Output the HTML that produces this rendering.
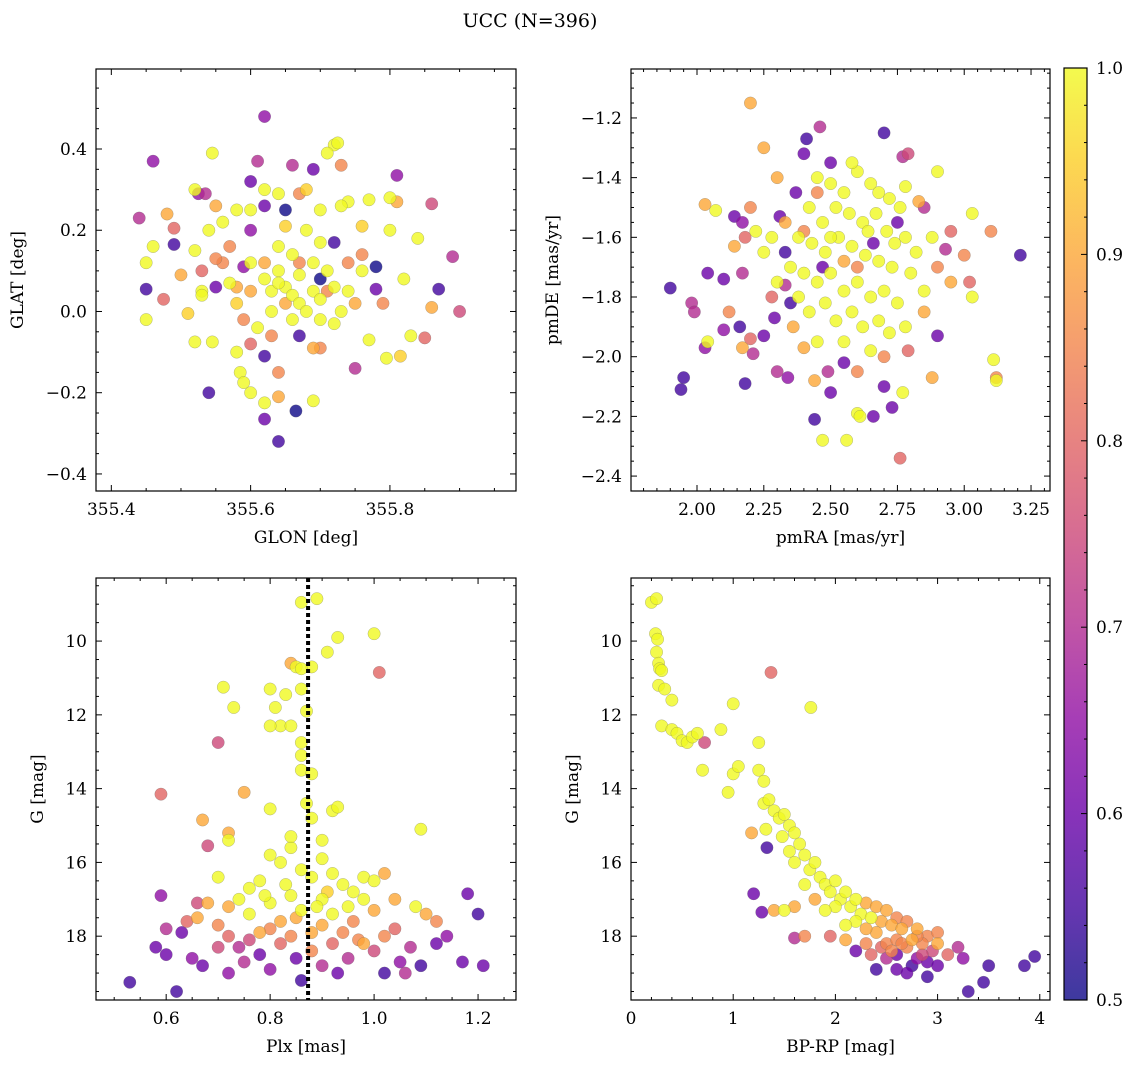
<!DOCTYPE html>
<html><head><meta charset="utf-8"><style>
html,body{margin:0;padding:0;background:#fff;}
svg{display:block;font-family:"DejaVu Serif","Liberation Serif",serif;}
</style></head><body>
<svg id="fig" width="1136" height="1068" viewBox="0 0 1136 1068">
<defs><linearGradient id="cg" x1="0" y1="1" x2="0" y2="0">
<stop offset="0" stop-color="#0d0887"/><stop offset="0.1" stop-color="#41049d"/><stop offset="0.2" stop-color="#6a00a8"/><stop offset="0.3" stop-color="#8f0da4"/><stop offset="0.4" stop-color="#b12a90"/><stop offset="0.5" stop-color="#cc4778"/><stop offset="0.6" stop-color="#e16462"/><stop offset="0.7" stop-color="#f2844b"/><stop offset="0.8" stop-color="#fca636"/><stop offset="0.9" stop-color="#fcce25"/><stop offset="1" stop-color="#f0f921"/>
</linearGradient></defs>
<text x="530" y="27" text-anchor="middle" font-size="19">UCC (N=396)</text>
</svg>
<script>
const p1x=[355.62,355.46,355.44,355.45,355.54,355.62,355.64,355.665,355.87,355.9,355.89,355.81,355.86,355.75,355.69,355.66,355.61,355.535,355.525,355.49,355.49,355.475,355.55,355.62,355.62,355.6,355.78,355.78,355.72,355.65,355.67,355.7,355.6,355.59,355.72,355.725,355.71,355.545,355.52,355.46,355.45,355.45,355.51,355.52,355.545,355.58,355.585,355.59,355.6,355.62,355.69,355.69,355.77,355.795,355.815,355.83,355.84,355.82,355.8,355.8,355.77,355.76,355.74,355.73,355.7,355.68,355.64,355.62,355.6,355.58,355.56,355.54,355.52,355.53,355.53,355.57,355.58,355.6,355.62,355.63,355.64,355.65,355.66,355.67,355.68,355.69,355.7,355.71,355.72,355.73,355.74,355.66,355.64,355.62,355.7,355.68,355.65,355.63,355.61,355.6,355.66,355.7,355.72,355.75,355.76,355.74,355.64,355.67,355.69,355.65,355.63,355.59,355.56,355.57,355.55,355.48,355.6,355.64,355.67,355.73,355.76,355.79,355.81,355.86,355.85,355.64,355.7,355.71,355.67,355.58,355.55,355.53,355.5];
const p1y=[0.48,0.37,0.23,0.055,-0.2,-0.265,-0.32,-0.245,0.055,0,0.135,0.335,0.265,-0.14,0.35,0.36,0.37,0.29,0.29,0.165,0.205,0.03,0.06,-0.11,0.26,0.32,0.11,0.055,0.17,0.25,-0.06,0.08,0.2,0.11,0.41,0.415,0.39,0.39,0.3,0.16,0.12,-0.02,-0.005,-0.075,-0.075,-0.1,-0.15,-0.175,-0.2,-0.225,-0.22,-0.09,-0.07,-0.115,-0.11,-0.06,0.18,0.08,0.2,0.28,0.275,0.21,0.27,0.26,0.25,0.3,0.29,0.3,0.25,0.25,0.22,0.2,0.15,0.05,0.04,0.07,0.02,0.12,0.08,0.05,0.1,0.06,0.04,0.02,0,0.05,0.03,0.1,0.06,0,0.05,0.14,0.16,0.12,0.17,0.2,0.21,0,-0.04,0.05,-0.02,-0.02,-0.03,0.02,0.1,0.12,0.07,0.09,0.12,0.02,-0.06,-0.02,0.12,0.16,0.26,0.24,-0.08,-0.15,0.29,0.36,0.14,0.02,0.27,0.01,-0.065,-0.21,-0.09,0.05,0.12,0.06,0.13,0.1,0.09];
const p1p=[0.65,0.65,0.7,0.55,0.55,0.6,0.55,0.5,0.55,0.75,0.7,0.65,0.75,0.7,0.6,0.7,0.7,0.7,0.65,0.55,0.8,0.8,0.6,0.55,0.6,0.6,0.5,0.6,0.55,0.5,0.55,0.5,0.65,0.65,1,1,1,1,1,1,1,1,0.95,1,1,1,1,1,1,1,1,0.9,1,1,0.95,1,1,1,1,1,1,0.95,1,1,1,0.95,1,1,1,1,1,1,1,1,1,1,0.95,1,1,1,1,1,1,1,1,1,1,1,1,1,1,1,1,0.9,1,1,0.95,1,1,0.9,1,1,1,0.9,1,0.85,1,1,1,0.9,0.85,0.85,0.85,0.85,0.9,0.9,0.8,0.85,0.85,0.85,0.85,0.85,0.9,0.9,0.8,0.9,0.85,0.85,0.85,0.9,0.85,0.8,0.9];

const p2x=[2.2,2.25,2.41,2.4,2.46,2.7,2.77,2.79,2.9,2.78,2.83,2.85,2.95,2.93,3.03,3.1,3.21,3.0,3.02,3.03,3.11,3.12,3.12,2.9,2.88,2.79,2.77,2.73,2.7,2.66,2.6,2.61,2.76,2.56,2.47,2.44,2.5,2.55,2.49,2.44,2.34,2.3,2.18,2.21,2.2,2.17,2.03,2.04,1.94,1.95,1.9,1.98,1.99,2.03,2.07,2.14,2.17,2.14,2.17,2.1,2.04,2.12,2.1,2.16,2.25,2.29,2.18,2.2,2.3,2.37,2.31,2.4,2.35,2.33,2.45,2.5,2.55,2.6,2.65,2.68,2.72,2.76,2.42,2.47,2.52,2.57,2.62,2.67,2.71,2.74,2.78,2.82,2.38,2.43,2.48,2.53,2.58,2.63,2.68,2.73,2.8,2.85,2.35,2.4,2.45,2.5,2.55,2.6,2.65,2.7,2.75,2.3,2.38,2.42,2.48,2.52,2.58,2.62,2.68,2.72,2.78,2.45,2.55,2.65,2.25,2.22,2.28,2.33,2.36,2.4,2.6,2.7,2.85,2.9,2.95,2.88,2.5,2.6,2.55,2.66,2.47,2.75,2.33,2.28,2.45,2.5,2.58,2.64];
const p2y=[-1.15,-1.3,-1.27,-1.32,-1.23,-1.25,-1.33,-1.32,-1.38,-1.43,-1.48,-1.5,-1.58,-1.64,-1.52,-1.58,-1.66,-1.66,-1.75,-1.8,-2.01,-2.07,-2.08,-1.93,-2.07,-1.98,-2.12,-2.17,-2.1,-2.2,-2.19,-2.2,-2.34,-2.28,-2.28,-2.21,-2.12,-2.02,-2.05,-2.08,-2.07,-2.05,-2.09,-1.99,-1.94,-1.97,-1.97,-1.95,-2.11,-2.07,-1.77,-1.82,-1.85,-1.49,-1.51,-1.53,-1.55,-1.63,-1.72,-1.74,-1.72,-1.85,-1.91,-1.9,-1.93,-1.87,-1.6,-1.5,-1.4,-1.45,-1.53,-1.58,-1.82,-1.76,-1.4,-1.42,-1.45,-1.38,-1.42,-1.45,-1.47,-1.5,-1.5,-1.55,-1.5,-1.52,-1.55,-1.52,-1.58,-1.62,-1.6,-1.65,-1.6,-1.62,-1.65,-1.6,-1.63,-1.66,-1.68,-1.7,-1.72,-1.78,-1.7,-1.72,-1.75,-1.72,-1.78,-1.75,-1.8,-1.78,-1.82,-1.75,-1.8,-1.85,-1.82,-1.88,-1.85,-1.9,-1.88,-1.92,-1.9,-1.95,-1.95,-1.98,-1.65,-1.58,-1.6,-1.55,-1.9,-1.97,-2.05,-2.0,-1.85,-1.7,-1.75,-1.6,-1.6,-1.7,-1.68,-1.62,-1.7,-1.55,-1.65,-1.8,-1.45,-1.35,-1.35,-1.58];
const p2p=[0.9,0.9,0.55,0.6,0.7,0.55,0.7,0.75,1,1,0.9,0.7,0.8,0.7,1,0.85,0.55,0.85,0.8,1,1,0.85,1,0.6,0.9,0.8,1,0.6,0.6,0.6,1,1,0.8,1,1,0.55,0.6,0.6,0.7,0.9,0.65,0.7,0.55,0.7,0.8,0.9,0.65,1,0.55,0.55,0.55,0.7,0.7,0.9,1,0.6,0.65,0.9,0.7,0.6,0.6,0.85,0.65,0.55,0.6,0.6,0.8,0.85,0.9,0.6,0.6,0.85,0.55,0.7,1,1,1,1,1,1,1,1,1,1,1,1,1,1,1,1,1,1,1,1,1,1,1,1,1,1,1,1,1,1,1,1,1,1,1,1,1,1,1,1,1,1,1,1,1,1,1,1,1,1,1,1,1,0.9,0.9,0.9,0.85,0.85,0.9,0.85,0.9,1,1,0.85,0.9,0.6,0.6,0.6,0.55,0.8,0.85,0.6,1,1,0.55];

const p3x=[0.86,0.89,0.93,1.0,0.91,0.88,0.85,0.86,0.84,1.01,0.86,0.83,0.8,0.81,0.82,0.8,0.84,0.87,0.86,0.86,0.86,0.88,0.87,0.88,0.8,0.92,0.93,1.09,0.71,0.73,0.7,0.75,0.59,0.67,0.68,0.72,0.72,0.8,0.82,0.84,0.86,0.88,0.9,0.92,0.94,0.96,0.98,1.0,1.02,0.78,0.76,0.74,0.7,0.72,0.76,0.8,0.84,0.86,0.9,0.92,0.95,0.98,1.0,1.04,1.08,1.1,0.68,0.66,0.82,0.9,0.96,0.84,0.9,0.6,0.63,0.58,0.6,0.53,0.62,0.59,0.65,0.67,0.7,0.72,0.75,0.72,0.78,0.8,0.82,0.85,0.86,0.88,0.9,0.92,0.95,0.97,1.0,1.02,1.05,1.07,1.09,1.12,1.14,1.17,1.18,1.2,1.21,1.06,0.66,0.64,0.76,0.84,0.94,1.04,0.8,0.7,0.98,0.88,0.78,1.12,1.02,0.74,0.93,0.83,0.89,0.91,0.85,0.79];
const p3y=[8.95,8.85,9.9,9.8,10.3,10.7,10.7,10.75,10.6,10.85,11.3,11.45,11.3,11.8,12.3,12.3,12.3,11.9,12.75,13.1,13.5,13.6,14.4,14.8,14.55,14.6,14.5,15.1,11.25,11.8,12.75,14.1,14.15,14.85,15.55,15.2,15.4,15.8,16.0,15.6,16.2,16.4,15.9,16.3,16.6,16.8,16.4,16.5,16.3,16.5,16.7,17.0,16.4,17.2,17.4,17.1,16.9,17.3,17.0,17.4,17.2,17.0,17.3,17.0,17.2,17.4,17.1,17.5,17.6,17.7,17.6,15.3,15.4,17.8,17.9,18.3,18.5,19.25,19.5,16.9,18.6,18.8,18.3,18.0,18.7,19.0,18.5,18.9,18.2,18.6,19.2,18.4,18.8,18.2,18.6,18.1,18.4,18.0,18.7,18.3,18.8,18.2,18.0,18.7,16.85,17.4,18.8,19.0,17.1,17.6,18.1,18.0,17.9,17.8,17.8,17.7,18.2,17.9,17.9,17.6,19.0,18.3,19.0,16.6,17.2,16.8,17.5,16.9];
const p3p=[1,1,1,1,1,1,1,1,0.9,0.8,1,1,1,1,1,1,1,1,1,1,1,1,1,1,1,1,1,1,1,1,0.75,0.9,0.8,0.9,0.75,0.9,1,1,1,1,1,1,1,1,1,1,1,1,0.9,1,1,1,1,0.9,1,1,1,1,1,1,1,1,0.9,0.9,1,0.9,0.9,0.9,0.9,0.9,0.85,1,1,0.7,0.6,0.6,0.6,0.55,0.55,0.65,0.65,0.6,0.75,0.8,0.7,0.65,0.6,0.65,0.8,0.6,0.55,0.85,0.7,0.8,0.7,0.85,0.75,0.85,0.65,0.7,0.55,0.6,0.65,0.6,0.6,0.55,0.6,0.7,0.75,0.8,0.75,0.85,0.85,0.8,0.85,0.85,0.9,0.9,0.9,0.85,0.55,0.7,0.6,1,1,0.95,0.9,1];

const p4x=[0.2,0.25,0.24,0.26,0.25,0.27,0.28,0.3,0.27,0.33,0.4,0.3,0.4,0.45,0.5,0.55,0.6,0.65,0.72,0.7,0.88,1.0,1.76,1.37,1.25,1.0,1.05,0.95,1.25,1.3,1.3,1.35,1.4,1.18,1.32,1.33,1.45,1.5,1.55,1.48,1.6,1.65,1.55,1.7,1.6,1.75,1.8,1.85,1.7,1.9,1.95,2.0,2.05,2.1,2.15,2.0,2.2,2.25,2.3,2.35,2.4,2.45,2.5,2.55,2.6,2.65,2.7,2.8,2.9,3.0,2.2,1.9,1.6,1.5,1.2,1.28,1.7,1.95,1.6,2.1,2.3,2.2,2.5,2.6,2.7,2.75,2.8,2.85,2.9,2.95,3.0,3.1,3.2,3.25,3.3,3.45,3.5,3.85,3.95,2.4,2.6,2.5,2.35,2.7,2.9,3.0,2.8,2.1,1.8,2.4,1.4,2.6,2.45,2.55,2.75,2.85,2.3,2.65];
const p4y=[8.95,8.85,9.8,9.95,10.3,10.6,10.75,10.8,11.2,11.3,11.6,12.3,12.4,12.5,12.7,12.75,12.6,12.5,12.75,13.5,12.4,11.7,11.8,10.85,12.75,13.6,13.4,14.1,13.5,13.8,14.4,14.3,14.6,15.2,15.1,15.6,14.8,14.7,15.0,15.3,15.2,15.5,15.7,15.8,16.0,16.2,16.0,16.4,16.6,16.6,16.8,16.5,17.0,16.8,17.2,17.2,17.0,17.4,17.1,17.5,17.2,17.6,17.3,17.7,17.5,17.8,17.6,17.8,18.0,17.9,17.6,17.3,17.2,17.3,16.85,17.35,18.0,18.0,18.05,18.1,18.2,18.4,18.2,18.5,18.3,18.8,18.6,18.2,18.7,18.4,18.8,18.5,18.3,18.6,19.5,19.25,18.8,18.8,18.55,18.9,18.9,18.6,18.5,19.0,19.1,18.2,18.0,17.7,17.0,17.9,17.3,18.1,18.3,18.4,18.1,18.5,17.8,18.2];
const p4p=[1,1,1,1,1,1,1,1,1,1,1,1,1,1,1,1,1,1,0.75,1,1,1,1,0.8,1,1,1,1,1,1,1,1,1,0.9,1,0.55,1,1,1,1,1,1,1,1,1,1,1,1,1,1,1,1,1,1,1,1,1,1,0.9,1,0.9,0.9,0.9,0.9,0.85,0.9,0.85,0.9,0.85,0.85,1,1,0.9,1,0.6,0.6,0.85,0.8,0.7,0.9,0.85,0.6,0.85,0.6,0.85,0.55,0.65,0.85,0.6,0.75,0.6,0.8,0.7,0.65,0.55,0.55,0.55,0.55,0.55,0.55,0.6,0.7,0.8,0.6,0.55,0.9,0.85,1,0.9,0.9,0.9,0.85,0.8,0.85,0.9,0.75,0.9,0.85];

const cbTicks=[0.5,0.6,0.7,0.8,0.9,1.0];

const NS='http://www.w3.org/2000/svg';
const svg=document.getElementById('fig');
function mk(tag,attrs,parent){const e=document.createElementNS(NS,tag);for(const k in attrs)e.setAttribute(k,attrs[k]);(parent||svg).appendChild(e);return e;}
const stops=[[0,[13,8,135]],[0.1,[65,4,157]],[0.2,[106,0,168]],[0.3,[143,13,164]],[0.4,[177,42,144]],[0.5,[204,71,120]],[0.6,[225,100,98]],[0.7,[242,132,75]],[0.8,[252,166,54]],[0.9,[252,206,37]],[1,[240,249,33]]];
function plasma(v){v=Math.max(0,Math.min(1,v));for(let i=1;i<stops.length;i++){if(v<=stops[i][0]){const a=stops[i-1],b=stops[i];const t=(v-a[0])/(b[0]-a[0]);const c=a[1].map((x,j)=>Math.round(x+(b[1][j]-x)*t));return 'rgb('+c.join(',')+')';}}return 'rgb(240,249,33)';}
function colorOf(p){return plasma((p-0.5)/0.5);}
function fmt(v,d){const s=Math.abs(v).toFixed(d);return (v<-1e-9?'\u2212':'')+s;}
const FS=17;

function panel(o){
  const g=mk('g',{});
  const sx=v=>o.L+(v-o.x0)/(o.x1-o.x0)*(o.R-o.L);
  const sy=v=>o.B-(v-o.y0)/(o.y1-o.y0)*(o.B-o.T);
  const cp=mk('clipPath',{id:'c'+o.name},g);mk('rect',{x:o.L,y:o.T,width:o.R-o.L,height:o.B-o.T},cp);
  const pts=mk('g',{'clip-path':'url(#c'+o.name+')'},g);
  
  
  const idx=o.X.map((_,i)=>i).sort((a,b)=>o.P[a]-o.P[b]);
  idx.forEach(i=>{
    const c=mk('circle',{cx:sx(o.X[i]),cy:sy(o.Y[i]),r:6.2,fill:colorOf(o.P[i]),'fill-opacity':0.8,stroke:'#666','stroke-width':0.4,'stroke-opacity':0.6},pts);
    
    
  });
  if(o.vline!==undefined){
    const l=mk('line',{x1:sx(o.vline),x2:sx(o.vline),y1:o.T,y2:o.B,stroke:'#000','stroke-width':4,'stroke-dasharray':'4 3'},g);
    
    
  }
  mk('rect',{x:o.L,y:o.T,width:o.R-o.L,height:o.B-o.T,fill:'none',stroke:'#000','stroke-width':1.2},g);
  const tk=mk('g',{stroke:'#000','stroke-width':1},g);
  const xa=Math.min(o.x0,o.x1),xb=Math.max(o.x0,o.x1);
  for(let k=Math.ceil(xa/o.xmin-1e-6);k*o.xmin<=xb+1e-9;k++){const v=k*o.xmin;
    const x=sx(v);const maj=Math.abs(v/o.xmaj-Math.round(v/o.xmaj))<1e-6;const len=maj?6:3;
    mk('line',{x1:x,x2:x,y1:o.B,y2:o.B-len},tk);mk('line',{x1:x,x2:x,y1:o.T,y2:o.T+len},tk);
    if(maj){const t=mk('text',{x:x,y:o.B+24,'text-anchor':'middle','font-size':FS},g);t.textContent=fmt(v,o.xd);
      }
  }
  const ya=Math.min(o.y0,o.y1),yb=Math.max(o.y0,o.y1);
  for(let k=Math.ceil(ya/o.ymin-1e-6);k*o.ymin<=yb+1e-9;k++){const v=k*o.ymin;
    const y=sy(v);const maj=Math.abs(v/o.ymaj-Math.round(v/o.ymaj))<1e-6;const len=maj?6:3;
    mk('line',{x1:o.L,x2:o.L+len,y1:y,y2:y},tk);mk('line',{x1:o.R,x2:o.R-len,y1:y,y2:y},tk);
    if(maj){const t=mk('text',{x:o.L-9,y:y+6,'text-anchor':'end','font-size':FS},g);t.textContent=fmt(v,o.yd);
      }
  }
  const xl=mk('text',{x:(o.L+o.R)/2,y:o.B+52,'text-anchor':'middle','font-size':FS},g);xl.textContent=o.xlab;
  
  const yx=o.ylx,yy=(o.T+o.B)/2;
  const yl=mk('text',{x:yx,y:yy,'text-anchor':'middle','font-size':FS,transform:'rotate(-90 '+yx+' '+yy+')'},g);yl.textContent=o.ylab;
  
}
panel({name:'panel-glon-glat',L:96,R:516,T:69,B:491,x0:355.378,x1:355.981,y0:-0.442,y1:0.597,xmaj:0.2,xmin:0.05,ymaj:0.2,ymin:0.05,xd:1,yd:1,X:p1x,Y:p1y,P:p1p,xlab:'GLON [deg]',ylab:'GLAT [deg]',ylx:23});
panel({name:'panel-pmra-pmde',L:631,R:1050,T:69,B:491,x0:1.753,x1:3.321,y0:-2.45,y1:-1.036,xmaj:0.25,xmin:0.05,ymaj:0.2,ymin:0.05,xd:2,yd:1,X:p2x,Y:p2y,P:p2p,xlab:'pmRA [mas/yr]',ylab:'pmDE [mas/yr]',ylx:558});
panel({name:'panel-plx-g',L:96,R:516,T:578,B:1000,x0:0.465,x1:1.273,y0:19.73,y1:8.29,xmaj:0.2,xmin:0.05,ymaj:2,ymin:0.5,xd:1,yd:0,X:p3x,Y:p3y,P:p3p,xlab:'Plx [mas]',ylab:'G [mag]',ylx:43,vline:0.873});
panel({name:'panel-bprp-g',L:631,R:1050,T:578,B:1000,x0:0,x1:4.1,y0:19.73,y1:8.29,xmaj:1,xmin:0.2,ymaj:2,ymin:0.5,xd:0,yd:0,X:p4x,Y:p4y,P:p4p,xlab:'BP-RP [mag]',ylab:'G [mag]',ylx:578});

// colorbar
const cb=mk('g',{});


const cT=68,cB=1000,cL=1064,cR=1087;
mk('rect',{x:cL,y:cT,width:cR-cL,height:cB-cT,fill:'url(#cg)','fill-opacity':0.8},cb);
mk('rect',{x:cL,y:cT,width:cR-cL,height:cB-cT,fill:'none',stroke:'#000','stroke-width':1.2},cb);
const cy=v=>cB-(v-0.5)/0.5*(cB-cT);
for(let k=0;k<=25;k++){const v=0.5+k*0.02;const y=cy(v);const maj=k%5===0;mk('line',{x1:cR,x2:cR-(maj?6:3),y1:y,y2:y,stroke:'#000'},cb);}
cbTicks.forEach(v=>{const t=mk('text',{x:cR+9,y:cy(v)+6,'font-size':FS},cb);t.textContent=v.toFixed(1);
  });
</script>
</body></html>
